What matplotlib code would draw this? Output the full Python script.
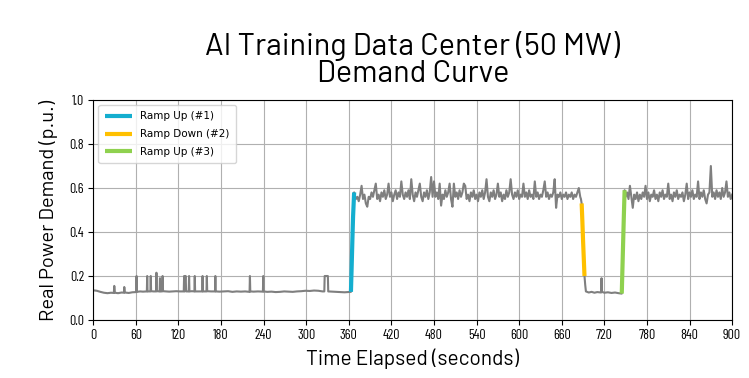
import numpy as np
import matplotlib
matplotlib.use("Agg")
import matplotlib.pyplot as plt

# ---------------- data ----------------
# low phase before ramp #1
t_low1 = [0, 5, 10, 15, 20, 25, 29, 29.6, 30.5, 35, 40, 43.2, 43.7, 44.5, 50, 55,
          60.5, 61, 61.5, 66, 70, 75.5, 76, 76.5, 80.5, 81, 81.5, 85, 88.5, 89, 89.5,
          93.5, 94, 94.5, 97, 97.7, 98.3, 102, 107, 112, 117, 122, 127.5, 128, 128.7,
          129.5, 130.2, 130.8, 131.5, 134.5, 135, 135.5, 139, 142.5, 143, 143.5, 148,
          153.5, 154, 154.5, 159.5, 160, 160.5, 166, 171.5, 172, 172.5, 178, 184, 190,
          196, 202, 208, 214, 220.2, 220.7, 221.2, 226, 232, 239, 239.5, 240, 245, 251,
          257, 263, 269, 275, 281, 287, 293, 299, 305, 311, 317, 323, 325.5, 326, 330.5,
          331, 336, 342, 348, 354, 359, 363]
v_low1 = [0.135, 0.133, 0.128, 0.124, 0.122, 0.124, 0.123, 0.155, 0.124, 0.122, 0.125,
          0.124, 0.15, 0.125, 0.123, 0.126, 0.127, 0.2, 0.128, 0.13, 0.129, 0.13, 0.2,
          0.13, 0.13, 0.2, 0.131, 0.13, 0.13, 0.215, 0.131, 0.13, 0.19, 0.13, 0.13, 0.2,
          0.131, 0.13, 0.129, 0.13, 0.131, 0.13, 0.13, 0.2, 0.13, 0.2, 0.2, 0.13, 0.13,
          0.13, 0.2, 0.13, 0.131, 0.13, 0.2, 0.13, 0.13, 0.13, 0.2, 0.13, 0.13, 0.2,
          0.131, 0.13, 0.13, 0.2, 0.13, 0.129, 0.13, 0.131, 0.128, 0.13, 0.129, 0.13,
          0.128, 0.2, 0.13, 0.129, 0.13, 0.129, 0.2, 0.13, 0.128, 0.129, 0.127, 0.128,
          0.13, 0.129, 0.128, 0.13, 0.131, 0.133, 0.132, 0.134, 0.133, 0.13, 0.13, 0.2,
          0.2, 0.13, 0.129, 0.128, 0.127, 0.126, 0.127, 0.128]

# ramp #1
t_ramp1 = [363, 364, 365, 366, 367.5]
v_ramp1 = [0.128, 0.24, 0.36, 0.47, 0.58]

# high phase 1 (368 s .. 686 s, 2 s samples)
t_high1 = np.arange(368, 688, 2)
v_high1 = [0.57, 0.55, 0.56, 0.54, 0.57, 0.61, 0.55, 0.57, 0.53, 0.515,
           0.56, 0.55, 0.58, 0.56, 0.59, 0.62, 0.55, 0.57, 0.54, 0.58,
           0.56, 0.59, 0.55, 0.57, 0.62, 0.56, 0.58, 0.54, 0.57, 0.59,
           0.55, 0.58, 0.56, 0.63, 0.57, 0.55, 0.58, 0.56, 0.59, 0.55,
           0.64, 0.57, 0.54, 0.58, 0.56, 0.59, 0.62, 0.56, 0.54, 0.58,
           0.56, 0.59, 0.55, 0.58, 0.65, 0.56, 0.63, 0.56, 0.58, 0.55,
           0.62, 0.52, 0.57, 0.55, 0.59, 0.56, 0.58, 0.62, 0.55, 0.515,
           0.62, 0.56, 0.58, 0.55, 0.59, 0.56, 0.58, 0.62, 0.61, 0.55,
           0.57, 0.54, 0.58, 0.56, 0.59, 0.55, 0.57, 0.54, 0.58, 0.56,
           0.59, 0.55, 0.58, 0.64, 0.56, 0.54, 0.58, 0.56, 0.59, 0.55,
           0.57, 0.62, 0.56, 0.58, 0.54, 0.57, 0.55, 0.59, 0.56, 0.58,
           0.64, 0.57, 0.55, 0.58, 0.56, 0.59, 0.55, 0.57, 0.56, 0.62,
           0.56, 0.58, 0.55, 0.59, 0.56, 0.57, 0.55, 0.63, 0.56, 0.58,
           0.55, 0.57, 0.56, 0.59, 0.63, 0.56, 0.58, 0.55, 0.57, 0.56,
           0.58, 0.64, 0.51, 0.57, 0.56, 0.58, 0.55, 0.57, 0.56, 0.58,
           0.55, 0.57, 0.56, 0.58, 0.55, 0.57, 0.56, 0.58, 0.60, 0.56]

# transition before ramp #2
t_pre2 = [687]
v_pre2 = [0.55]

# ramp #2
t_ramp2 = [688, 689, 690, 691, 692]
v_ramp2 = [0.53, 0.45, 0.36, 0.28, 0.20]

# low phase 2
t_low2 = [693, 694, 698, 702, 706, 710, 715.5, 716, 716.5, 720, 725, 730, 735, 740, 744.5]
v_low2 = [0.16, 0.13, 0.125, 0.128, 0.124, 0.127, 0.125, 0.19, 0.128, 0.124, 0.126,
          0.123, 0.125, 0.122, 0.12]

# ramp #3
t_ramp3 = [744.5, 745.5, 746.5, 747.5, 748.5]
v_ramp3 = [0.12, 0.24, 0.36, 0.48, 0.59]

# high phase 2 (750 s .. 900 s, 2 s samples)
t_high2 = np.arange(750, 902, 2)
v_high2 = [0.56, 0.58, 0.55, 0.61, 0.56, 0.51, 0.57, 0.55, 0.58, 0.54,
           0.57, 0.55, 0.58, 0.56, 0.61, 0.55, 0.58, 0.54, 0.57, 0.56,
           0.59, 0.55, 0.57, 0.54, 0.58, 0.56, 0.59, 0.55, 0.57, 0.56,
           0.62, 0.55, 0.57, 0.54, 0.58, 0.56, 0.59, 0.55, 0.57, 0.56,
           0.58, 0.54, 0.57, 0.62, 0.55, 0.58, 0.56, 0.59, 0.55, 0.57,
           0.56, 0.63, 0.55, 0.58, 0.56, 0.59, 0.55, 0.53, 0.57, 0.58,
           0.70, 0.56, 0.58, 0.55, 0.59, 0.56, 0.58, 0.55, 0.60, 0.56,
           0.58, 0.63, 0.56, 0.58, 0.55, 0.57]

ramp_labels = ["Ramp Up (#1)", "Ramp Down (#2)", "Ramp Up (#3)"]
ramp_colors = ["#14aecf", "#ffc000", "#8fd14f"]

x_ticks = [0, 60, 120, 180, 240, 300, 360, 420, 480, 540, 600, 660, 720, 780, 840, 900]
y_ticks = [0.0, 0.2, 0.4, 0.6, 0.8, 1.0]

# ---------------- fonts ----------------
F_MAIN = ["Barlow", "DejaVu Sans"]
F_TICK = ["Barlow Condensed", "DejaVu Sans"]
plt.rcParams['font.family'] = ["DejaVu Sans"]

# ---------------- plot ----------------
t_all = np.concatenate([t_low1, t_ramp1, t_high1, t_pre2, t_ramp2, t_low2, t_ramp3, t_high2])
v_all = np.concatenate([v_low1, v_ramp1, v_high1, v_pre2, v_ramp2, v_low2, v_ramp3, v_high2])

fig = plt.figure(figsize=(7.49, 3.78), dpi=100)
ax = fig.add_axes([0.1245, 0.1534, 0.853, 0.582])

ax.plot(t_all, v_all, color="#7f7f7f", lw=1.5, zorder=2)
for (tt, vv), lab, col in zip([(t_ramp1, v_ramp1), (t_ramp2, v_ramp2), (t_ramp3, v_ramp3)],
                              ramp_labels, ramp_colors):
    ax.plot(tt, vv, color=col, lw=3, label=lab, zorder=3, solid_capstyle='butt')

ax.set_xlim(0, 900)
ax.set_ylim(0, 1.0)
ax.set_xticks(x_ticks)
ax.set_yticks(y_ticks)
ax.set_xticklabels([str(x) for x in x_ticks], fontsize=10, family=F_TICK)
ax.set_yticklabels([f"{y:.1f}" for y in y_ticks], fontsize=10, family=F_TICK)
ax.grid(True, color="#b0b0b0", lw=0.8)
ax.set_axisbelow(True)
ax.tick_params(length=3.5, width=0.8, pad=3)

ax.set_xlabel("Time Elapsed (seconds)", fontsize=15, labelpad=5, family=F_MAIN)
ax.set_ylabel("Real Power Demand (p.u.)", fontsize=14.5, labelpad=8, family=F_MAIN)
fig.text(0.551, 0.843, "AI Training Data Center (50 MW)\nDemand Curve", ha="center",
         va="center", fontsize=22, linespacing=0.95, family=F_MAIN)

leg = ax.legend(loc="upper left", fontsize=7.5, frameon=True, handlelength=2.6,
                borderpad=0.6, labelspacing=0.75)
leg.get_frame().set_edgecolor("#cccccc")

fig.savefig("out.png", dpi=100)
